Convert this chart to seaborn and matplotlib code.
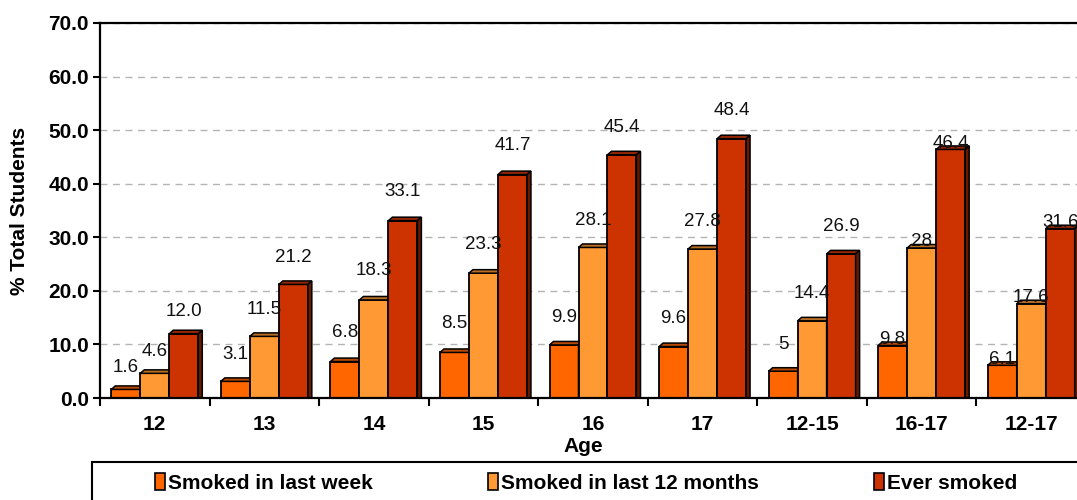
import numpy as np
import pandas as pd
import seaborn as sns
import matplotlib
matplotlib.use("Agg")
import matplotlib.pyplot as plt
from matplotlib.patches import Polygon, Rectangle, Patch
import matplotlib.colors as mcolors

# ---------------- data ----------------
categories = ["12", "13", "14", "15", "16", "17", "12-15", "16-17", "12-17"]
series_names = ["Smoked in last week", "Smoked in last 12 months", "Ever smoked"]
last_week = [1.6, 3.1, 6.8, 8.5, 9.9, 9.6, 5, 9.8, 6.1]
last_12_months = [4.6, 11.5, 18.3, 23.3, 28.1, 27.8, 14.4, 28, 17.6]
ever_smoked = [12.0, 21.2, 33.1, 41.7, 45.4, 48.4, 26.9, 46.4, 31.6]
last_week_labels = ["1.6", "3.1", "6.8", "8.5", "9.9", "9.6", "5", "9.8", "6.1"]
last_12_months_labels = ["4.6", "11.5", "18.3", "23.3", "28.1", "27.8", "14.4", "28", "17.6"]
ever_smoked_labels = ["12.0", "21.2", "33.1", "41.7", "45.4", "48.4", "26.9", "46.4", "31.6"]
y_ticks = [0, 10, 20, 30, 40, 50, 60, 70]

colors = ["#FF6600", "#FF9933", "#CC3300"]

values = [last_week, last_12_months, ever_smoked]
labels = [last_week_labels, last_12_months_labels, ever_smoked_labels]

df = pd.DataFrame({
    "Age": categories * 3,
    "value": last_week + last_12_months + ever_smoked,
    "series": sum([[s] * len(categories) for s in series_names], []),
})

# ---------------- style ----------------
sns.set_theme(style="white")
plt.rcParams["font.family"] = ["Liberation Sans", "DejaVu Sans"]
for k in ["text.color", "axes.labelcolor", "xtick.color", "ytick.color"]:
    plt.rcParams[k] = "black"

W, H = 1077, 500
fig = plt.figure(figsize=(W / 100, H / 100), dpi=100)
ax_left, ax_right, ax_top, ax_bottom = 100, 1086, 23, 398
ax = fig.add_axes([ax_left / W, (H - ax_bottom) / H,
                   (ax_right - ax_left) / W, (ax_bottom - ax_top) / H])

sns.barplot(data=df, x="Age", y="value", hue="series", order=categories,
            hue_order=series_names, palette=colors, width=0.794, gap=0,
            errorbar=None, edgecolor="black", linewidth=1.3, ax=ax,
            legend=False, saturation=1)

ax.set_xlim(-0.5, len(categories) - 0.5)
ax.set_ylim(0, 70)

# pixel -> data conversions for 3D depth
px_x = (ax_right - ax_left) / len(categories)
px_y = (ax_bottom - ax_top) / 70.0
dx = 4.0 / px_x
dy = 3.5 / px_y

def shade(c, f):
    r, g, b = mcolors.to_rgb(c)
    return (r * f, g * f, b * f)

label_lift_px = [22, 27, 29, 29, 27, 28, 27, 6, 6]

for si, cont in enumerate(ax.containers):
    z = 2 + si * 0.1
    for ci, bar in enumerate(cont.patches):
        bar.set_zorder(z)
        x0 = bar.get_x()
        w = bar.get_width()
        x1 = x0 + w
        y0 = bar.get_y()
        y1 = y0 + bar.get_height()
        top = Polygon([(x0, y1), (x0 + dx, y1 + dy), (x1 + dx, y1 + dy), (x1, y1)],
                      closed=True, facecolor=shade(colors[si], 0.72),
                      edgecolor="black", linewidth=1.1, zorder=z)
        side = Polygon([(x1, y0), (x1, y1), (x1 + dx, y1 + dy), (x1 + dx, y0)],
                       closed=True, facecolor=shade(colors[si], 0.5),
                       edgecolor="black", linewidth=1.1, zorder=z)
        ax.add_patch(top)
        ax.add_patch(side)
        ax.annotate(labels[si][ci], (x0 + w / 2, y1),
                    xytext=(0, label_lift_px[ci] * 0.72), textcoords="offset points",
                    ha="center", va="center", fontsize=13.5, color="#111111",
                    zorder=5, annotation_clip=False)

# grid & spines
ax.set_axisbelow(True)
ax.yaxis.grid(True, linestyle=(0, (5, 4)), color="#b4b4b4", linewidth=1.0)
ax.xaxis.grid(False)
for s in ["left", "bottom", "top"]:
    ax.spines[s].set_visible(True)
    ax.spines[s].set_color("black")
    ax.spines[s].set_linewidth(1.6)
ax.spines["right"].set_visible(False)

ax.set_yticks(y_ticks)
ax.set_yticklabels([f"{v:.1f}" for v in y_ticks], fontsize=15, fontweight="bold")
ax.tick_params(axis="y", which="major", direction="out", length=5, width=1.5,
               color="black", pad=3, left=True)
ax.set_xticks(range(len(categories)))
ax.set_xticklabels(categories, fontsize=15, fontweight="bold")
ax.tick_params(axis="x", which="major", length=0, pad=12)
ax.set_xticks(np.arange(-0.5, len(categories)), minor=True)
ax.tick_params(axis="x", which="minor", direction="out", length=6, width=1.5,
               color="black", bottom=True)

ax.set_xlabel("Age", fontsize=15, fontweight="bold")
ax.xaxis.set_label_coords(0.49, -0.104)
ax.set_ylabel("% Total Students", fontsize=15, fontweight="bold")
ax.yaxis.set_label_coords(-0.072, 0.5)

# legend box
fig.patches.append(Rectangle((92 / W, -0.02), (1082 - 92) / W, (H - 462) / H + 0.02,
                             transform=fig.transFigure, facecolor="white",
                             edgecolor="black", linewidth=1.5, zorder=0))
handles = [Patch(facecolor=c, edgecolor="black", linewidth=1.2) for c in colors]
fig.legend(handles, series_names, loc="center",
           bbox_to_anchor=(586 / W, (H - 483) / H), bbox_transform=fig.transFigure,
           ncol=3, frameon=False, prop={"size": 15, "weight": "bold"},
           handlelength=0.5, handleheight=0.9, handletextpad=0.15,
           columnspacing=5.5)

fig.savefig("out.png", dpi=100)
